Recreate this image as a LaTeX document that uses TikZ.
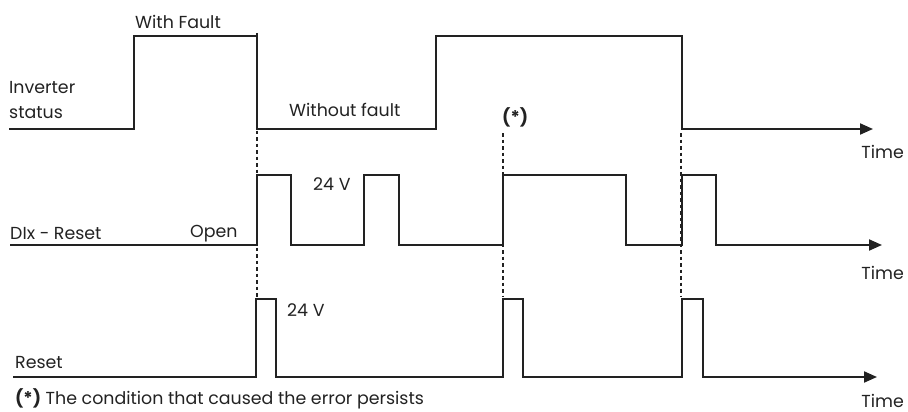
\documentclass[tikz,border=0pt]{standalone}
\usepackage{fontspec}
\setmainfont{Poppins}
\usetikzlibrary{arrows.meta}
\definecolor{ink}{HTML}{222222}
\begin{document}
\begin{tikzpicture}[x=1pt,y=-1pt,
  sig/.style={draw=ink,line width=2pt,line join=miter,-{Triangle[length=13pt,width=11pt]}},
  guide/.style={draw=ink,line width=1.3pt,dash pattern=on 3.5pt off 3pt},
  lbl/.style={inner sep=0pt,text=ink,font=\fontsize{17.4}{18}\selectfont}]
\useasboundingbox (0,0) rectangle (908,412);
% signals
\draw[sig] (9,129) -- (134,129) -- (134,36) -- (257,36) -- (257,129) -- (436,129) -- (436,36) -- (682,36) -- (682,129) -- (873,129);
\draw[sig] (10,245) -- (257,245) -- (257,175) -- (291,175) -- (291,245) -- (364,245) -- (364,175) -- (399,175) -- (399,245) -- (503,245) -- (503,175) -- (626,175) -- (626,245) -- (682,245) -- (682,175) -- (716,175) -- (716,245) -- (882,245);
\draw[sig] (13,377) -- (256,377) -- (256,299) -- (276,299) -- (276,377) -- (503,377) -- (503,299) -- (523,299) -- (523,377) -- (682,377) -- (682,299) -- (703,299) -- (703,377) -- (877,377);
% guide lines
\coordinate (g1a) at (257,33); \coordinate (g1b) at (257,297);
\coordinate (g2a) at (503,133); \coordinate (g2b) at (503,297);
\coordinate (g3a) at (681,133); \coordinate (g3b) at (681,297);
\draw[guide] (g1a) -- (g1b);
\draw[guide] (g2a) -- (g2b);
\draw[guide] (g3a) -- (g3b);
% labels
\node[lbl,anchor=base west] (inv) at (9,94) {Inverter};
\node[lbl,anchor=base west] (stat) at (9,118) {status};
\node[lbl,anchor=base west] (wf) at (135,29) {With Fault};
\node[lbl,anchor=base west] (wof) at (289,117) {Without fault};
\node[lbl,anchor=base west] (ast) at (502,123) {\textbf{(*)}};
\node[lbl,anchor=base east] (t1) at (904,158) {Time};
\node[lbl,anchor=base west] (dix) at (10,239) {DIx - Reset};
\node[lbl,anchor=base west] (open) at (190,237) {Open};
\node[lbl,anchor=base west] (v1) at (313,190) {24 V};
\node[lbl,anchor=base east] (t2) at (904,279) {Time};
\node[lbl,anchor=base west] (rst) at (15,368) {Reset};
\node[lbl,anchor=base west] (v2) at (287,316) {24 V};
\node[lbl,anchor=base east] (t3) at (904,407) {Time};
\node[lbl,anchor=base west] (note) at (15,404) {\textbf{(*)} The condition that caused the error persists};
\end{tikzpicture}
\end{document}
